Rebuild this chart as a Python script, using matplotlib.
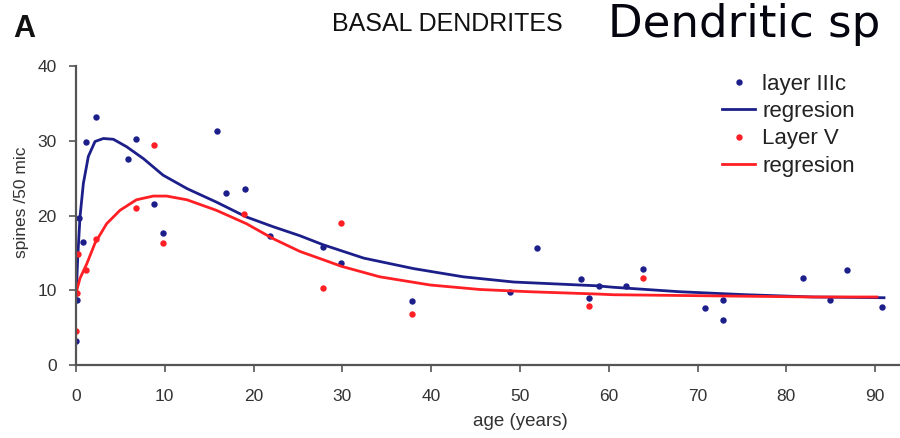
import matplotlib
matplotlib.use("Agg")
import matplotlib.pyplot as plt

# ---------------- data ----------------
blue_age = [0, 0.1, 0.3, 0.8, 1.1, 2.3, 5.8, 6.8, 8.8, 9.8, 15.9, 16.9, 19.0, 21.9,
            27.8, 29.9, 37.8, 48.9, 51.9, 56.9, 57.8, 58.9, 61.9, 63.8, 70.8, 72.9,
            72.9, 81.9, 84.9, 86.8, 90.8]
blue_spines = [3.2, 8.7, 19.6, 16.4, 29.8, 33.2, 27.6, 30.2, 21.6, 17.6, 31.3, 23.0, 23.6, 17.3,
               15.8, 13.6, 8.5, 9.7, 15.7, 11.5, 9.0, 10.6, 10.6, 12.8, 7.6, 8.7,
               6.0, 11.7, 8.7, 12.7, 7.7]

red_age = [0, 0.15, 0.26, 1.1, 2.3, 6.8, 8.8, 9.8, 18.9, 27.8, 29.9, 37.8, 57.8, 63.8]
red_spines = [4.5, 9.6, 14.8, 12.7, 16.9, 21.0, 29.4, 16.3, 20.2, 10.3, 19.0, 6.8, 7.9, 11.7]

blue_fit_age = [0, 0.2, 0.45, 0.83, 1.39, 2.14, 3.08, 4.2, 5.7, 7.6, 9.8, 12.5, 15.8, 19.2,
                22.2, 25.2, 27.8, 32.4, 38.0, 43.6, 49.3, 54.9, 58.6, 60.5, 68.0, 75.5,
                83.0, 91.0]
blue_fit = [8.7, 14.5, 19.8, 24.3, 27.9, 29.9, 30.3, 30.2, 29.2, 27.6, 25.4, 23.6, 21.8, 19.8,
            18.5, 17.3, 16.1, 14.3, 12.9, 11.8, 11.1, 10.8, 10.6, 10.4, 9.8, 9.4,
            9.1, 9.0]

red_fit_age = [0, 0.45, 1.2, 2.14, 3.45, 4.96, 6.8, 8.7, 10.2, 12.5, 15.8, 19.2, 22.2, 25.2,
               27.8, 29.9, 34.2, 39.9, 45.5, 51.1, 58.6, 60.5, 68.0, 75.5, 83.0, 90.2]
red_fit = [9.6, 11.6, 13.5, 16.3, 18.9, 20.7, 22.1, 22.6, 22.6, 22.1, 20.7, 18.9, 16.9, 15.2,
           14.1, 13.2, 11.8, 10.7, 10.1, 9.8, 9.5, 9.4, 9.3, 9.2, 9.1, 9.1]

x_ticks = [0, 10, 20, 30, 40, 50, 60, 70, 80, 90]
y_ticks = [0, 10, 20, 30, 40]

# ---------------- style ----------------
FONT = "Liberation Sans"
BLUE = "#1c1f8a"
RED = "#ff1f24"
GREY = "#333333"
W, H = 900, 438

fig = plt.figure(figsize=(9, 4.38), dpi=100)
ax = fig.add_axes([76 / W, 1 - 365 / H, 1 - 76 / W, (365 - 66) / H])

ax.plot(blue_age, blue_spines, "o", color=BLUE, ms=4.6, mec="none", label="layer IIIc")
ax.plot(blue_fit_age, blue_fit, "-", color=BLUE, lw=2, label="regresion",
        solid_joinstyle="round")
ax.plot(red_age, red_spines, "o", color=RED, ms=4.6, mec="none", label="Layer V")
ax.plot(red_fit_age, red_fit, "-", color=RED, lw=2, label="regresion",
        solid_joinstyle="round")

ax.set_xlim(0, 92.8)
ax.set_ylim(0, 40)
ax.set_xticks(x_ticks)
ax.set_yticks(y_ticks)
for s in ["top", "right"]:
    ax.spines[s].set_visible(False)
for s in ["left", "bottom"]:
    ax.spines[s].set_color("#555555")
    ax.spines[s].set_linewidth(1.6)
ax.tick_params(direction="out", length=5, width=1.2, color="#555555",
               labelcolor=GREY, labelsize=12.5)
ax.tick_params(axis="y", pad=9)
ax.tick_params(axis="x", pad=12)
for lab in ax.get_xticklabels() + ax.get_yticklabels():
    lab.set_family(FONT)

fig.text(520 / W, 1 - 422 / H, "age (years)", fontsize=13.5, color=GREY, family=FONT,
         ha="center", va="center")
fig.text(22 / W, 1 - 202 / H, "spines /50 mic", fontsize=12.5, color=GREY, family=FONT,
         ha="center", va="center", rotation=90)

leg = fig.legend(*ax.get_legend_handles_labels(), loc="upper left",
                 bbox_to_anchor=(722 / W, 1 - 74 / H), frameon=False,
                 prop={"family": FONT, "size": 16}, handlelength=1.5,
                 handletextpad=0.3, labelspacing=0.28, borderpad=0,
                 borderaxespad=0, labelcolor="#222222")

fig.text(13 / W, 1 - 37 / H, "A", fontsize=22, family=FONT, weight="bold",
         va="baseline", ha="left", color="#111111")
fig.text(447.5 / W, 1 - 31 / H, "BASAL DENDRITES", fontsize=18, family=FONT,
         va="baseline", ha="center", color="#111111")
fig.text(608 / W, 1 - 37 / H, "Dendritic sp", fontsize=32.5, family="DejaVu Sans",
         va="baseline", ha="left", color="#050510")

fig.savefig("out.png", dpi=100)
